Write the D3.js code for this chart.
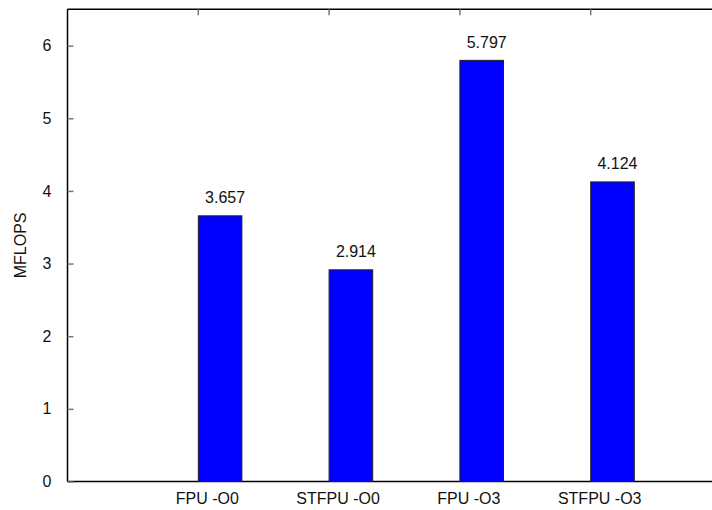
<!DOCTYPE html>
<html>
<head>
<meta charset="utf-8">
<script src="https://cdn.jsdelivr.net/npm/d3@7"></script>
<style>
  html, body { margin: 0; padding: 0; background: #fff; overflow: hidden; }
  svg { display: block; font-family: "Liberation Sans", Arial, sans-serif; }
</style>
</head>
<body>
<svg id="chart" width="712" height="510"></svg>
<script>
// Benchmark results (MFLOPS) per build configuration
const categories = ["FPU -O0", "STFPU -O0", "FPU -O3", "STFPU -O3"];
const values = [3.657, 2.914, 5.797, 4.124];
const yTicks = [0, 1, 2, 3, 4, 5, 6];
const yLabel = "MFLOPS";

const W = 712;
const svg = d3.select("#chart");

// Plot frame: the x range runs from slot -1 to slot 4, so the right side runs off the page
const x = d3.scaleLinear().domain([-1, 4]).range([67.5, 721.5]);
const y = d3.scaleLinear().domain([0, 6.5]).range([481.5, 9.3]);
const barWidth = 1 / 3;

// Frame lines: left, top and bottom
const frame = svg.append("g").attr("stroke", "#000").attr("stroke-width", 1.5);
frame.append("line").attr("x1", x(-1)).attr("x2", x(-1)).attr("y1", y(6.5)).attr("y2", y(0));
frame.append("line").attr("x1", x(-1)).attr("x2", W).attr("y1", y(6.5)).attr("y2", y(6.5));
frame.append("line").attr("x1", x(-1)).attr("x2", W).attr("y1", y(0)).attr("y2", y(0));

// Y axis with inward ticks
const yAxis = d3.axisLeft(y).tickValues(yTicks).tickSize(-6).tickPadding(16)
  .tickFormat(d3.format("d"));
const gy = svg.append("g").attr("transform", `translate(${x(-1)},0)`).call(yAxis);
gy.select(".domain").remove();
gy.selectAll(".tick line").attr("stroke", "#777").attr("stroke-width", 1.5);
gy.selectAll(".tick text").attr("font-size", 16).attr("fill", "#111");

// Top mirror ticks at each slot start
svg.append("g").selectAll("line").data(categories).join("line")
  .attr("x1", (d, i) => x(i)).attr("x2", (d, i) => x(i))
  .attr("y1", y(6.5)).attr("y2", y(6.5) + 6)
  .attr("stroke", "#777").attr("stroke-width", 1.5);

// Bars
svg.append("g").selectAll("rect").data(values).join("rect")
  .attr("x", (d, i) => x(i))
  .attr("y", d => y(d))
  .attr("width", (d, i) => x(i + barWidth) - x(i))
  .attr("height", d => y(0) - y(d))
  .attr("fill", "#0000ff")
  .attr("stroke", "#222").attr("stroke-width", 1);

// Value labels above bars
svg.append("g").selectAll("text").data(values).join("text")
  .attr("x", (d, i) => x(i + barWidth / 2) + 5)
  .attr("y", d => y(d) - 12.5)
  .attr("text-anchor", "middle")
  .attr("font-size", 16).attr("fill", "#111")
  .text(d => d3.format(".3f")(d));

// Category labels under the axis
svg.append("g").selectAll("text").data(categories).join("text")
  .attr("x", (d, i) => x(i) + 9)
  .attr("y", y(0) + 22.5)
  .attr("text-anchor", "middle")
  .attr("font-size", 16).attr("fill", "#111")
  .text(d => d);

// Y axis title
svg.append("text")
  .attr("transform", `translate(25.5,${(y(0) + y(6.5)) / 2}) rotate(-90)`)
  .attr("text-anchor", "middle")
  .attr("font-size", 16).attr("fill", "#111")
  .text(yLabel);
</script>
</body>
</html>
